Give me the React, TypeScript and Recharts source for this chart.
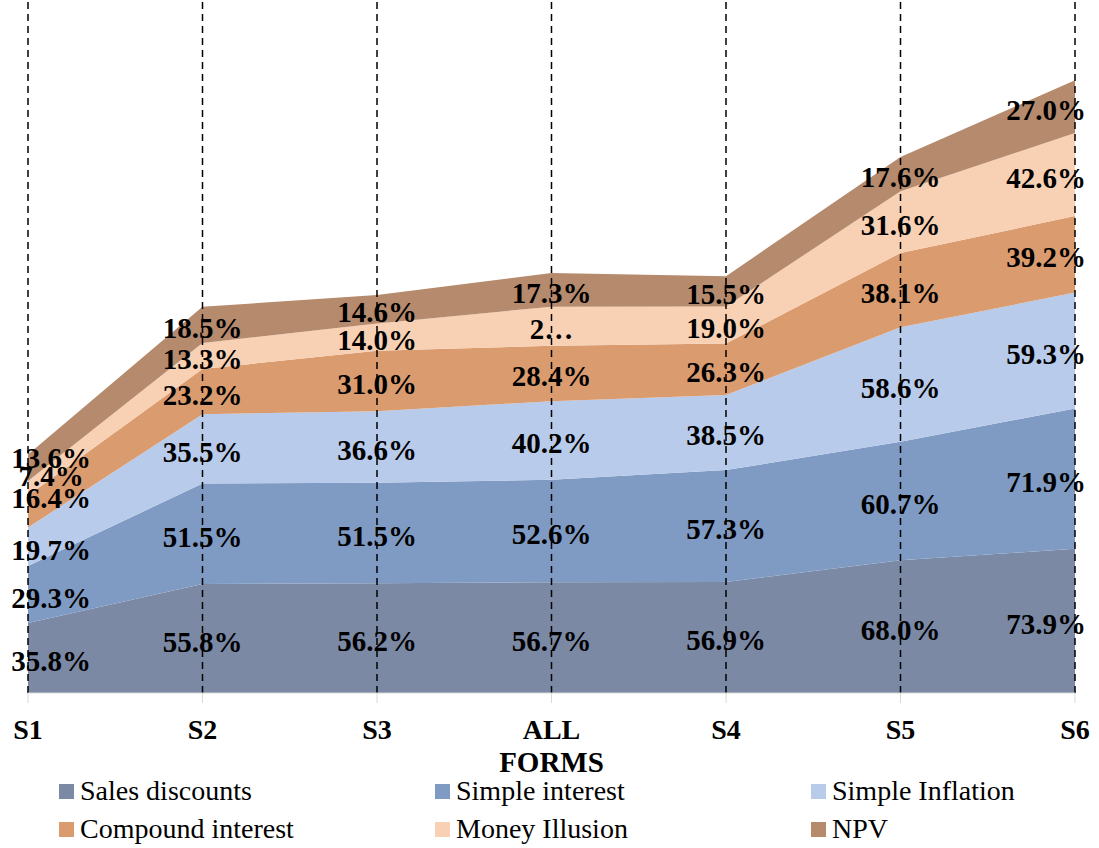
import React from "react";
import { ComposedChart, Area, Line, XAxis, YAxis, ReferenceLine, Legend, LabelList } from "recharts";

const CATEGORIES = ["S1", "S2", "S3", "ALL", "S4", "S5", "S6"];

const SALES_DISCOUNTS = [35.8, 55.8, 56.2, 56.7, 56.9, 68.0, 73.9];
const SIMPLE_INTEREST = [29.3, 51.5, 51.5, 52.6, 57.3, 60.7, 71.9];
const SIMPLE_INFLATION = [19.7, 35.5, 36.6, 40.2, 38.5, 58.6, 59.3];
const COMPOUND_INTEREST = [16.4, 23.2, 31.0, 28.4, 26.3, 38.1, 39.2];
const MONEY_ILLUSION = [7.4, 13.3, 14.0, 20.0, 19.0, 31.6, 42.6];
const NPV = [13.6, 18.5, 14.6, 17.3, 15.5, 17.6, 27.0];

// labels that the original chart shows cut off
const TRUNCATED: Record<string, number[]> = { moneyIllusion: [3] };

// small vertical nudges for the crowded labels at S1 (pixels)
const LABEL_NUDGE: Record<string, Record<number, number>> = {
  npv: { 0: -13 },
  moneyIllusion: { 0: -15 },
  compoundInterest: { 0: -16 },
};

const FONT = "'Liberation Serif', 'Times New Roman', Times, serif";

const SERIES = [
  { key: "salesDiscounts", name: "Sales discounts", color: "#7B89A5", values: SALES_DISCOUNTS },
  { key: "simpleInterest", name: "Simple interest", color: "#7F9BC4", values: SIMPLE_INTEREST },
  { key: "simpleInflation", name: "Simple Inflation", color: "#B9CBEA", values: SIMPLE_INFLATION },
  { key: "compoundInterest", name: "Compound interest", color: "#DA9B6F", values: COMPOUND_INTEREST },
  { key: "moneyIllusion", name: "Money Illusion", color: "#F8D0B3", values: MONEY_ILLUSION },
  { key: "npv", name: "NPV", color: "#B58A6D", values: NPV },
];

const data = CATEGORIES.map((form, i) => {
  const row: Record<string, string | number> = { form };
  let base = 0;
  SERIES.forEach((s) => {
    const v = s.values[i];
    row[s.key] = v;
    row[s.key + "Mid"] = base + v / 2;
    base += v;
  });
  return row;
});

const renderLabel = (key: string) => (props: any) => {
  const { x, y, value, index } = props;
  const cx = Math.min(Math.max(Number(x), 51), 1046);
  const nudge = (LABEL_NUDGE[key] || {})[index] || 0;
  let text = Number(value).toFixed(1) + "%";
  if ((TRUNCATED[key] || []).includes(index)) text = text.charAt(0) + "…";
  return (
    <text
      x={cx}
      y={Number(y) + 3 + nudge}
      textAnchor="middle"
      dominantBaseline="central"
      fontSize={29}
      fontWeight={700}
      fontFamily={FONT}
      fill="#000"
    >
      {text}
    </text>
  );
};

const renderTick = (props: any) => {
  const { x, y, payload } = props;
  return (
    <text x={x} y={y} dy={34} textAnchor="middle" fontSize={28} fontWeight={700} fontFamily={FONT} fill="#000">
      {payload.value}
    </text>
  );
};

const renderLegend = () => (
  <div style={{ position: "relative", width: 1099, height: 76, fontFamily: FONT, fontSize: 28, color: "#000" }}>
    {SERIES.map((s, i) => {
      const col = i % 3;
      const row = Math.floor(i / 3);
      return (
        <div
          key={s.key}
          style={{
            position: "absolute",
            left: 59 + col * 376,
            top: 19 + row * 38,
            transform: "translateY(-50%)",
            display: "flex",
            alignItems: "center",
            whiteSpace: "nowrap",
            lineHeight: "32px",
          }}
        >
          <span style={{ display: "inline-block", width: 15, height: 15, background: s.color, marginRight: 6 }} />
          {s.name}
        </div>
      );
    })}
  </div>
);

export default function App() {
  return (
    <div style={{ position: "absolute", left: 0, top: 0 }}>
      <ComposedChart width={1099} height={848} data={data} margin={{ top: 0, right: 24, left: 28, bottom: 0 }}>
        <XAxis
          dataKey="form"
          interval={0}
          height={79}
          tick={renderTick}
          tickSize={10}
          tickLine={{ stroke: "#d9d9d9" }}
          axisLine={{ stroke: "#d9d9d9" }}
          label={{ value: "FORMS", position: "insideBottom", offset: 0, fill: "#000", fontSize: 29, fontWeight: 700, fontFamily: FONT }}
        />
        <YAxis hide type="number" domain={[0, 355]} />
        {SERIES.map((s) => (
          <Area
            key={s.key}
            type="linear"
            dataKey={s.key}
            name={s.name}
            stackId="1"
            stroke="none"
            fill={s.color}
            fillOpacity={1}
            activeDot={false}
            isAnimationActive={false}
          />
        ))}
        {CATEGORIES.map((c) => (
          <ReferenceLine key={c} x={c} stroke="#000" strokeWidth={1.5} strokeDasharray="7 5" />
        ))}
        {SERIES.map((s) => (
          <Line
            key={s.key + "Mid"}
            dataKey={s.key + "Mid"}
            stroke="none"
            dot={false}
            activeDot={false}
            legendType="none"
            isAnimationActive={false}
          >
            <LabelList dataKey={s.key} content={renderLabel(s.key)} />
          </Line>
        ))}
        <Legend
          verticalAlign="bottom"
          content={renderLegend}
          wrapperStyle={{ left: 0, bottom: 0, width: 1099, height: 76 }}
        />
      </ComposedChart>
    </div>
  );
}
